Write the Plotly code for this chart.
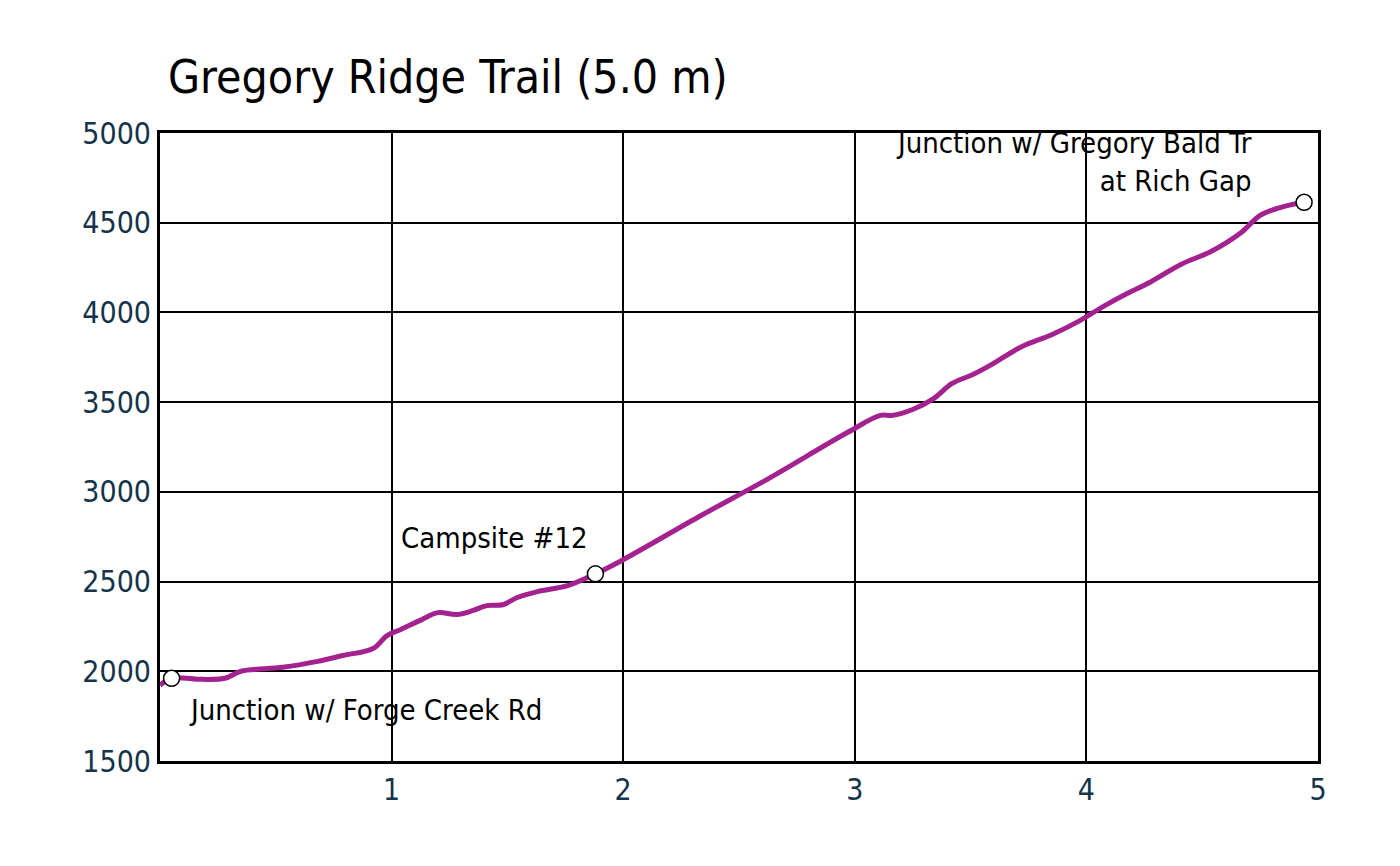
import plotly.graph_objects as go

dist = [0, 0.05, 0.18, 0.28, 0.35, 0.53, 0.68, 0.79, 0.92, 0.98, 1.04, 1.13, 1.20, 1.28,
        1.35, 1.41, 1.48, 1.54, 1.63, 1.76, 1.88, 1.99, 2.34, 2.60, 2.97, 3.11, 3.16,
        3.25, 3.34, 3.42, 3.51, 3.59, 3.72, 3.85, 3.97, 4.07, 4.18, 4.26, 4.41, 4.54,
        4.67, 4.75, 4.84, 4.94]
elev = [1922, 1961, 1955, 1961, 2000, 2022, 2055, 2088, 2127, 2199, 2233, 2288, 2327, 2316,
        2338, 2366, 2371, 2410, 2444, 2477, 2543, 2615, 2871, 3054, 3332, 3426, 3426,
        3459, 3520, 3604, 3654, 3709, 3809, 3876, 3953, 4031, 4108, 4158, 4269, 4341,
        4447, 4541, 4586, 4614]

wp_x = [0.05, 1.88, 4.94]
wp_y = [1961, 2543, 4614]
wp_names = ["Junction w/ Forge Creek Rd", "Campsite #12", "Junction w/ Gregory Bald Tr<br>at Rich Gap"]

font = "Liberation Sans Narrow, DejaVu Sans Condensed, sans-serif"

fig = go.Figure()
fig.add_trace(go.Scatter(x=dist, y=elev, mode="lines", line=dict(color="#a3228f", width=5, shape="spline")))
fig.add_trace(go.Scatter(x=wp_x, y=wp_y, mode="markers",
                         marker=dict(size=16, color="white", line=dict(color="black", width=1.5))))

# label placement around each waypoint: (xshift, yshift, anchor)
offsets = [(15, -32, "left"), (-5, 36, "right"), (-50, 40, "right")]
for x, y, name, (dx, dy, al) in zip(wp_x, wp_y, wp_names, offsets):
    fig.add_annotation(x=x, y=y, text=name, showarrow=False, xshift=dx, yshift=dy,
                       xanchor=al, align=al,
                       font=dict(family=font, size=29, color="black"))

fig.update_layout(
    width=1400, height=866,
    paper_bgcolor="white", plot_bgcolor="white",
    showlegend=False,
    margin=dict(l=152, r=90, t=125, b=113),
    title=dict(text="Gregory Ridge Trail (5.0 m)", x=160 / 1400, xanchor="left",
               y=0.92, yanchor="middle",
               font=dict(family=font, size=46, color="black")),
    font=dict(family=font),
)
fig.update_xaxes(range=[0, 5], tickvals=[1, 2, 3, 4, 5], showgrid=True, gridcolor="black", gridwidth=1.5,
                 showline=True, linecolor="black", linewidth=3, mirror=True, zeroline=False,
                 tickfont=dict(size=30, color="#15334a"), ticks="")
fig.update_yaxes(range=[1500, 5000], dtick=500, showgrid=True, gridcolor="black", gridwidth=1.5,
                 showline=True, linecolor="black", linewidth=3, mirror=True, zeroline=False,
                 tickfont=dict(size=30, color="#15334a"), ticks="")

fig.write_html("out.html")
